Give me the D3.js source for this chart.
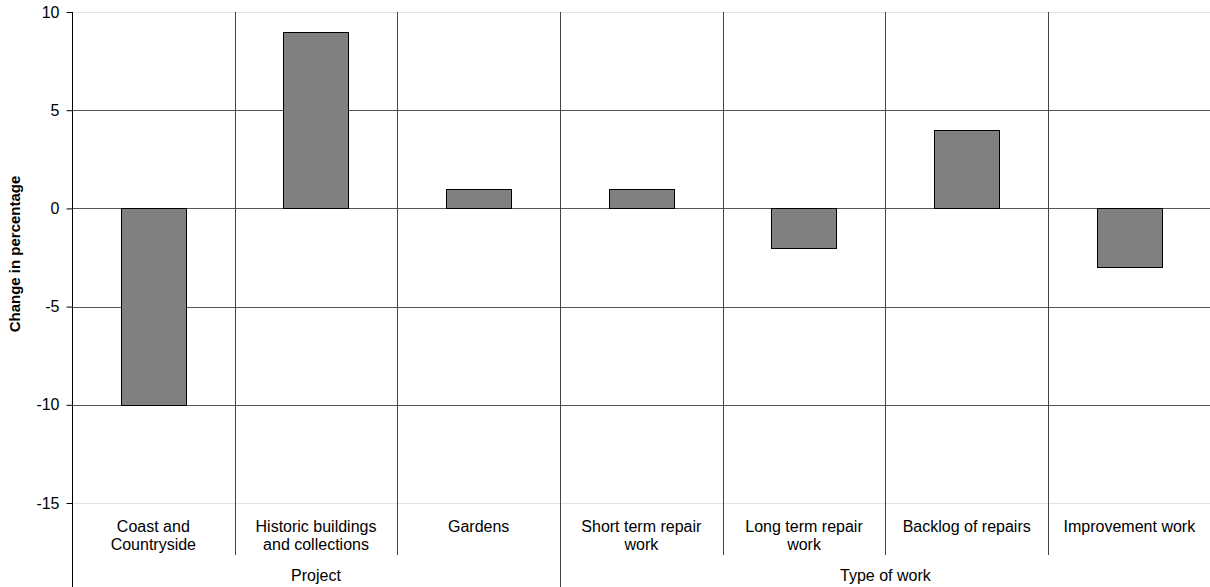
<!DOCTYPE html>
<html><head><meta charset="utf-8">
<script src="https://cdn.jsdelivr.net/npm/d3@7"></script>
<style>body{margin:0;background:#fff}svg{display:block;font-family:"Liberation Sans",Arial,sans-serif}</style>
</head><body><svg id="c" width="1210" height="587"></svg>
<script>
const categories = [["Coast and","Countryside"],["Historic buildings","and collections"],["Gardens"],["Short term repair","work"],["Long term repair","work"],["Backlog of repairs"],["Improvement work"]];
const values = [-10, 9, 1, 1, -2, 4, -3];
const groups = [{name:"Project", start:0, end:3},{name:"Type of work", start:3, end:7}];
const yTicks = [10, 5, 0, -5, -10, -15];
const yTitle = "Change in percentage";

(function(){
const svg = d3.select("#c");
const mL = 72, mR = 1210.7, mT = 12, mB = 503;
const x = d3.scaleBand().domain(d3.range(categories.length)).range([mL, mR]).paddingInner(0).paddingOuter(0);
const y = d3.scaleLinear().domain([-15, 10]).range([mB, mT]);

// horizontal gridlines
svg.append("g").selectAll("line").data(yTicks).join("line")
  .attr("x1", mL).attr("x2", 1210)
  .attr("y1", d => Math.round(y(d)) + 0.5).attr("y2", d => Math.round(y(d)) + 0.5)
  .attr("stroke", d => (d === 10 || d === -15) ? "#e2e2e2" : "#555").attr("stroke-width", 1);

// vertical dividers between categories
const inner = d3.range(1, categories.length);
svg.append("g").selectAll("line").data(inner).join("line")
  .attr("x1", d => Math.round(x(d)) + 0.5).attr("x2", d => Math.round(x(d)) + 0.5)
  .attr("y1", mT).attr("y2", d => groups.some(g => g.start === d) ? 587 : 555)
  .attr("stroke", "#444").attr("stroke-width", 1);

// bars
svg.append("g").selectAll("rect").data(values).join("rect")
  .attr("x", (d, i) => Math.round(x(i) + x.bandwidth() * 0.3) + 0.5)
  .attr("width", Math.round(x.bandwidth() * 0.4))
  .attr("y", d => Math.round(y(Math.max(0, d))) + 0.5)
  .attr("height", d => Math.abs(Math.round(y(d)) - Math.round(y(0))))
  .attr("fill", "#808080").attr("stroke", "#000").attr("stroke-width", 1);

// y axis
const yAxis = d3.axisLeft(y).tickValues(yTicks).tickSize(6).tickPadding(7).tickFormat(d => String(d));
const ga = svg.append("g").attr("transform", `translate(${mL + 0.5},0)`).call(yAxis);
ga.select(".domain").remove();
ga.selectAll("text").attr("font-size", 16).attr("fill", "#000").attr("font-family", '"Liberation Sans",Arial,sans-serif');
ga.selectAll("line").attr("stroke", "#000");
svg.append("line").attr("x1", mL + 0.5).attr("x2", mL + 0.5).attr("y1", mT).attr("y2", 587).attr("stroke", "#000");

// y title
svg.append("text").attr("transform", `translate(20,254) rotate(-90)`)
  .attr("text-anchor", "middle").attr("font-size", 15).attr("font-weight", "bold").text(yTitle);

// category labels
const cl = svg.append("g").selectAll("text").data(categories).join("text")
  .attr("text-anchor", "middle").attr("font-size", 16)
  .attr("x", (d, i) => x(i) + x.bandwidth() / 2).attr("y", 531.5);
cl.selectAll("tspan").data(d => d).join("tspan")
  .attr("x", function(){ return d3.select(this.parentNode).attr("x"); })
  .attr("dy", (d, i) => i === 0 ? 0 : 18.5).text(d => d);

// group labels
svg.append("g").selectAll("text").data(groups).join("text")
  .attr("text-anchor", "middle").attr("font-size", 16)
  .attr("x", g => (x(g.start) + (g.end < categories.length ? x(g.end) : mR)) / 2)
  .attr("y", 581).text(g => g.name);
})();
</script></body></html>
